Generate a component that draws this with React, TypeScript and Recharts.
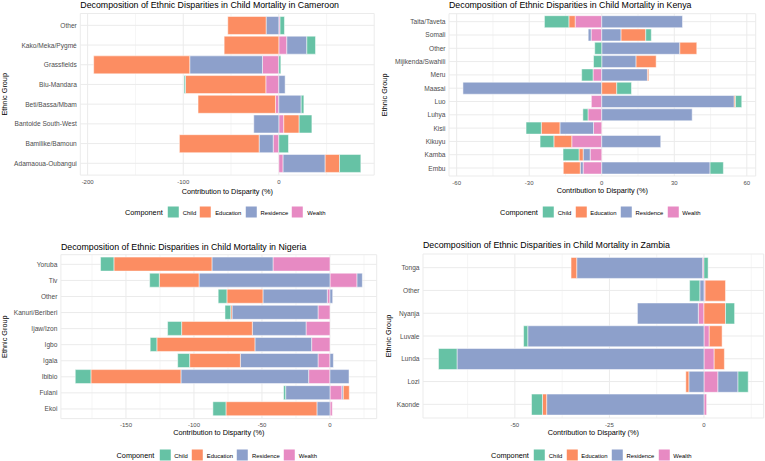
import React from 'react';
import { BarChart, Bar, XAxis, YAxis, CartesianGrid } from 'recharts';

const FONT = '"Liberation Sans", Arial, Helvetica, sans-serif';

const COMPONENTS = ['Child', 'Education', 'Residence', 'Wealth'];
const COLORS: Record<string, string> = {
  Child: '#66C2A5',
  Education: '#FC8D62',
  Residence: '#8DA0CB',
  Wealth: '#E78AC3',
};

// ---- Cameroon (groups listed top to bottom) ----
const cameroonGroups = ['Other', 'Kako/Meka/Pygmé', 'Grassfields', 'Biu-Mandara', 'Beti/Bassa/Mbam', 'Bantoide South-West', 'Bamilike/Bamoun', 'Adamaoua-Oubangui'];
const cameroonChild = [4.6, 9.1, 2.1, -1.4, 2.8, 13.3, 10.1, 22.3];
const cameroonEducation = [-40.1, -57.2, -100.5, -84.1, -81.0, 16.1, -83.4, 15.0];
const cameroonResidence = [-13.3, 20.9, -76.1, 6.6, 23.4, -26.2, -14.7, 44.0];
const cameroonResidenceB = [0, 0, 0, 0, 0, 0, 0, 0];
const cameroonWealth = [1.3, 8.4, -17.1, -13.6, -3.5, 5.2, -5.9, 4.5];
const cameroonTicks = [-200, -100, 0];
const cameroonMinor = [-150, -50, 50];

// ---- Kenya ----
const kenyaGroups = ['Taita/Taveta', 'Somali', 'Other', 'Mijikenda/Swahili', 'Meru', 'Maasai', 'Luo', 'Luhya', 'Kisii', 'Kikuyu', 'Kamba', 'Embu'];
const kenyaChild = [-10.1, 2.3, -2.9, -3.4, -4.7, 6.1, 2.6, -2.1, -6.3, -5.7, -6.6, 5.5];
const kenyaEducation = [-2.6, 10.2, 7.0, 8.3, 0.55, 6.2, 0.5, 0, -7.7, -7.4, -1.7, -7.0];
const kenyaResidence = [33.4, 8.0, 32.3, 14.2, 18.9, -57.4, 54.8, 37.4, -13.9, 24.4, -2.9, 44.8];
const kenyaResidenceB = [0, -1.2, 0, 0, 0, 0, 0, 0, 0, 0, 0, -1.2];
const kenyaWealth = [-11.0, -4.4, 0, 0, -3.6, 0, -4.3, -5.7, -3.4, -12.4, -4.8, -7.7];
const kenyaTicks = [-60, -30, 0, 30, 60];
const kenyaMinor = [-45, -15, 15, 45];

// ---- Nigeria ----
const nigeriaGroups = ['Yoruba', 'Tiv', 'Other', 'Kanuri/Beriberi', 'Ijaw/Izon', 'Igbo', 'Igala', 'Ibibio', 'Fulani', 'Ekoi'];
const nigeriaChild = [-9.8, -7.1, -6.4, -4.2, -10.3, -4.9, -8.8, -11.5, -1.5, -9.6];
const nigeriaEducation = [-72.1, -29.2, -26.5, -1.0, -52.0, -72.1, -37.3, -66.2, 4.4, -66.9];
const nigeriaResidence = [-44.9, -96.3, -47.3, -63.2, -39.5, -41.7, -57.1, -93.9, -32.6, -9.6];
const nigeriaResidenceB = [0, 3.9, 2.0, 0, 0, 0, 2.5, 14.0, 1.0, 0];
const nigeriaWealth = [-41.9, 19.9, -2.0, -8.8, -17.6, -13.5, -8.8, -15.7, 8.8, 1.7];
const nigeriaTicks = [-150, -100, -50, 0];
const nigeriaMinor = [-175, -125, -75, -25, 25];

// ---- Zambia ----
const zambiaGroups = ['Tonga', 'Other', 'Nyanja', 'Luvale', 'Lunda', 'Lozi', 'Kaonde'];
const zambiaChild = [1.1, -2.7, 2.4, -1.1, -4.9, 2.7, -2.9];
const zambiaEducation = [-1.5, 5.4, 5.7, 3.4, 2.7, -0.8, -1.1];
const zambiaResidence = [-33.3, -1.1, -16.1, -46.6, -65.3, -4.0, -41.6];
const zambiaResidenceB = [0, 0, 0, 0, 0, 5.3, 0];
const zambiaWealth = [-0.35, 0.3, -1.5, 1.4, 2.7, 3.7, 0.7];
const zambiaTicks = [-50, -25, 0];
const zambiaMinor = [-62.5, -37.5, -12.5, 12.5];

type Box = { x: number; y: number; w: number; h: number };
type Plot = { l: number; r: number; t: number; b: number };

type PanelProps = {
  country: string;
  groups: string[];
  child: number[];
  education: number[];
  residence: number[];
  residenceB: number[];
  wealth: number[];
  ticks: number[];
  minor: number[];
  box: Box;
  plot: Plot;
  titleY: number;
  axisTitleY: number;
  legendY: number;
  yTitleX: number;
};

// Single-line group label, right-aligned against the panel
function GroupTick(props: any) {
  const { x, y, payload } = props;
  return (
    <text x={x} y={y} textAnchor="end" dominantBaseline="central" fontFamily={FONT} fontSize={6.6} fill="#4D4D4D">
      {payload.value}
    </text>
  );
}

function Legend({ cx, cy }: { cx: number; cy: number }) {
  return (
    <div
      style={{
        position: 'absolute',
        left: cx,
        top: cy,
        transform: 'translate(-50%, -50%)',
        display: 'flex',
        alignItems: 'center',
        whiteSpace: 'nowrap',
        fontFamily: FONT,
        color: '#000',
      }}
    >
      <span style={{ fontSize: 7.3, marginRight: 5 }}>Component</span>
      {COMPONENTS.map((c) => (
        <span key={c} style={{ display: 'flex', alignItems: 'center' }}>
          <span style={{ width: 11, height: 11, background: COLORS[c], display: 'inline-block', marginRight: 4 }} />
          <span style={{ fontSize: 5.9, marginRight: 4 }}>{c}</span>
        </span>
      ))}
    </div>
  );
}

function Panel(p: PanelProps) {
  const rows = p.groups.map((g, i) => ({
    group: g,
    Child: p.child[i],
    Education: p.education[i],
    Residence: p.residence[i],
    ResidenceB: p.residenceB[i],
    Wealth: p.wealth[i],
  }));

  // Separate positive and negative stacks, expanded by 5% on each side.
  let lo = 0;
  let hi = 0;
  rows.forEach((r) => {
    const vals = [r.Child, r.Education, r.Residence, r.ResidenceB, r.Wealth];
    const neg = vals.filter((v) => v < 0).reduce((a, b) => a + b, 0);
    const pos = vals.filter((v) => v > 0).reduce((a, b) => a + b, 0);
    lo = Math.min(lo, neg);
    hi = Math.max(hi, pos);
  });
  const span = hi - lo;
  const domain: [number, number] = [lo - span * 0.05, hi + span * 0.05];
  const ticks = p.ticks.filter((t) => t >= domain[0] && t <= domain[1]);
  const minor = p.minor.filter((t) => t >= domain[0] && t <= domain[1]);

  const { box, plot } = p;
  const unit = (plot.b - plot.t) / (p.groups.length + 0.2);
  const pad = unit * 0.1;
  const cx = (plot.l + plot.r) / 2;
  const cy = (plot.t + plot.b) / 2;

  // Stack order: first series sits next to zero
  const stack = [
    { key: 'Wealth', color: COLORS.Wealth },
    { key: 'Residence', color: COLORS.Residence },
    { key: 'ResidenceB', color: COLORS.Residence },
    { key: 'Education', color: COLORS.Education },
    { key: 'Child', color: COLORS.Child },
  ];

  return (
    <>
      <div style={{ position: 'absolute', left: box.x, top: box.y, width: box.w, height: box.h }}>
        <BarChart
          width={box.w}
          height={box.h}
          data={rows}
          layout="vertical"
          stackOffset="sign"
          barCategoryGap="5%"
          margin={{ top: plot.t - box.y, right: box.x + box.w - plot.r, bottom: 0, left: 0 }}
        >
          <CartesianGrid stroke="#EBEBEB" strokeWidth={0.5} horizontal={false} verticalValues={minor} />
          <CartesianGrid stroke="#EBEBEB" strokeWidth={1} />
          <XAxis
            type="number"
            domain={domain}
            ticks={ticks}
            allowDataOverflow
            interval={0}
            height={box.y + box.h - plot.b}
            tickLine={false}
            axisLine={false}
            tickSize={0}
            tickMargin={4.5}
            tick={{ fontSize: 6, fill: '#4D4D4D', fontFamily: FONT }}
          />
          <YAxis
            type="category"
            dataKey="group"
            width={plot.l - box.x}
            padding={{ top: pad, bottom: pad }}
            interval={0}
            tickLine={false}
            axisLine={false}
            tickSize={0}
            tickMargin={3.5}
            tick={<GroupTick />}
          />
          {stack.map((s) => (
            <Bar
              key={s.key}
              dataKey={s.key}
              stackId="total"
              fill={s.color}
              stroke="#FFFFFF"
              strokeWidth={0.5}
              isAnimationActive={false}
            />
          ))}
        </BarChart>
      </div>
      <svg
        width={765}
        height={461}
        style={{ position: 'absolute', left: 0, top: 0, pointerEvents: 'none', overflow: 'visible' }}
      >
        <text x={plot.l} y={p.titleY} dominantBaseline="central" fontFamily={FONT} fontSize={8.8} fill="#000">
          {`Decomposition of Ethnic Disparities in Child Mortality in ${p.country}`}
        </text>
        <text x={cx} y={p.axisTitleY} dominantBaseline="central" textAnchor="middle" fontFamily={FONT} fontSize={7.3} fill="#000">
          Contribution to Disparity (%)
        </text>
        <text
          x={p.yTitleX}
          y={cy}
          dominantBaseline="central"
          textAnchor="middle"
          fontFamily={FONT}
          fontSize={7.3}
          fill="#000"
          transform={`rotate(-90 ${p.yTitleX} ${cy})`}
        >
          Ethnic Group
        </text>
      </svg>
      <Legend cx={cx} cy={p.legendY} />
    </>
  );
}

export default function App() {
  return (
    <div style={{ position: 'absolute', left: 0, top: 0, width: 765, height: 461, background: '#FFFFFF', overflow: 'hidden' }}>
      <Panel
        country="Cameroon"
        groups={cameroonGroups}
        child={cameroonChild}
        education={cameroonEducation}
        residence={cameroonResidence}
        residenceB={cameroonResidenceB}
        wealth={cameroonWealth}
        ticks={cameroonTicks}
        minor={cameroonMinor}
        box={{ x: 0, y: 0, w: 382, h: 230 }}
        plot={{ l: 80.3, r: 374.2, t: 13.5, b: 175.1 }}
        titleY={5}
        axisTitleY={191}
        legendY={212}
        yTitleX={5}
      />
      <Panel
        country="Kenya"
        groups={kenyaGroups}
        child={kenyaChild}
        education={kenyaEducation}
        residence={kenyaResidence}
        residenceB={kenyaResidenceB}
        wealth={kenyaWealth}
        ticks={kenyaTicks}
        minor={kenyaMinor}
        box={{ x: 382, y: 0, w: 383, h: 230 }}
        plot={{ l: 449, r: 755.7, t: 13.7, b: 176 }}
        titleY={5}
        axisTitleY={190.7}
        legendY={212}
        yTitleX={385}
      />
      <Panel
        country="Nigeria"
        groups={nigeriaGroups}
        child={nigeriaChild}
        education={nigeriaEducation}
        residence={nigeriaResidence}
        residenceB={nigeriaResidenceB}
        wealth={nigeriaWealth}
        ticks={nigeriaTicks}
        minor={nigeriaMinor}
        box={{ x: 0, y: 230, w: 382, h: 231 }}
        plot={{ l: 60.9, r: 376.7, t: 254.7, b: 418.6 }}
        titleY={246.7}
        axisTitleY={432.3}
        legendY={455}
        yTitleX={4.5}
      />
      <Panel
        country="Zambia"
        groups={zambiaGroups}
        child={zambiaChild}
        education={zambiaEducation}
        residence={zambiaResidence}
        residenceB={zambiaResidenceB}
        wealth={zambiaWealth}
        ticks={zambiaTicks}
        minor={zambiaMinor}
        box={{ x: 382, y: 230, w: 383, h: 231 }}
        plot={{ l: 423, r: 763.7, t: 254, b: 418 }}
        titleY={245.3}
        axisTitleY={432.7}
        legendY={455}
        yTitleX={388.3}
      />
    </div>
  );
}
